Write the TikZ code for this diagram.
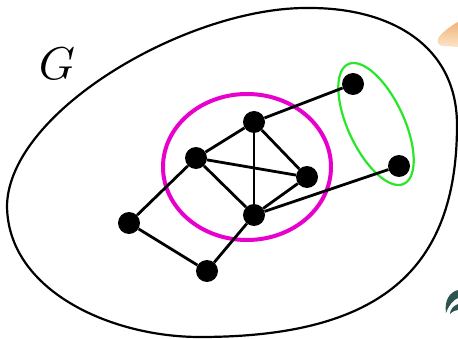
\documentclass[tikz,border=0pt]{standalone}
\usetikzlibrary{shapes.geometric}
\definecolor{pinkc}{RGB}{232,0,205}
\definecolor{greenc}{RGB}{40,230,40}
\definecolor{peach}{RGB}{240,180,120}
\definecolor{peachl}{RGB}{253,228,200}
\definecolor{leafc}{RGB}{44,84,80}
\begin{document}
\begin{tikzpicture}[x=1pt,y=-1pt,
  vtx/.style={circle,fill=black,inner sep=0pt,minimum size=22pt},
  edge/.style={line width=2.8pt,black},
  outline/.style={line width=2.2pt,black}]
\useasboundingbox (0,0) rectangle (458,339);
% outer set G
\draw[outline] (7,205) .. controls (10,110) and (190,6) .. (310,8)
  .. controls (390,8) and (457,45) .. (457,125)
  .. controls (457,270) and (380,337) .. (200,337)
  .. controls (110,337) and (7,290) .. (7,205) -- cycle;
\node[scale=4.6] (glabel) at (57,64) {$G$};
% decorative fragments
\shade[top color=peach,bottom color=peachl]
  (458,22) .. controls (450,26) and (442,33) .. (439,37)
  .. controls (436,42) and (438,46) .. (444,46) -- (458,47) -- cycle;
\fill[leafc] (458,290) .. controls (450,292) and (444,300) .. (446,313)
  .. controls (449,305) and (453,300) .. (458,298) -- cycle;
\fill[leafc] (458,304) .. controls (453,306) and (450,310) .. (450,314)
  .. controls (453,311) and (456,310) .. (458,310) -- cycle;
% groups
\node[ellipse,draw=pinkc,line width=4pt,minimum width=168pt,minimum height=146pt,inner sep=0pt] (core) at (247,167) {};
\node[ellipse,draw=greenc,line width=2.2pt,minimum width=132pt,minimum height=56pt,inner sep=0pt,rotate=-65] (pair) at (376,124) {};
% vertices
\node[vtx] (a) at (353,84) {};
\node[vtx] (b) at (399,166) {};
\node[vtx] (c) at (254,122) {};
\node[vtx] (d) at (196,158) {};
\node[vtx] (e) at (307,177) {};
\node[vtx] (f) at (254,215) {};
\node[vtx] (g) at (129,223) {};
\node[vtx] (h) at (207,271) {};
% edges
\draw[edge] (a) -- (c);
\draw[edge] (c) -- (d);
\draw[edge] (c) -- (e);
\draw[edge] (c) -- (f);
\draw[edge] (d) -- (e);
\draw[edge] (d) -- (f);
\draw[edge] (e) -- (f);
\draw[edge] (f) -- (b);
\draw[edge] (d) -- (g);
\draw[edge] (g) -- (h);
\draw[edge] (h) -- (f);
\end{tikzpicture}
\end{document}
